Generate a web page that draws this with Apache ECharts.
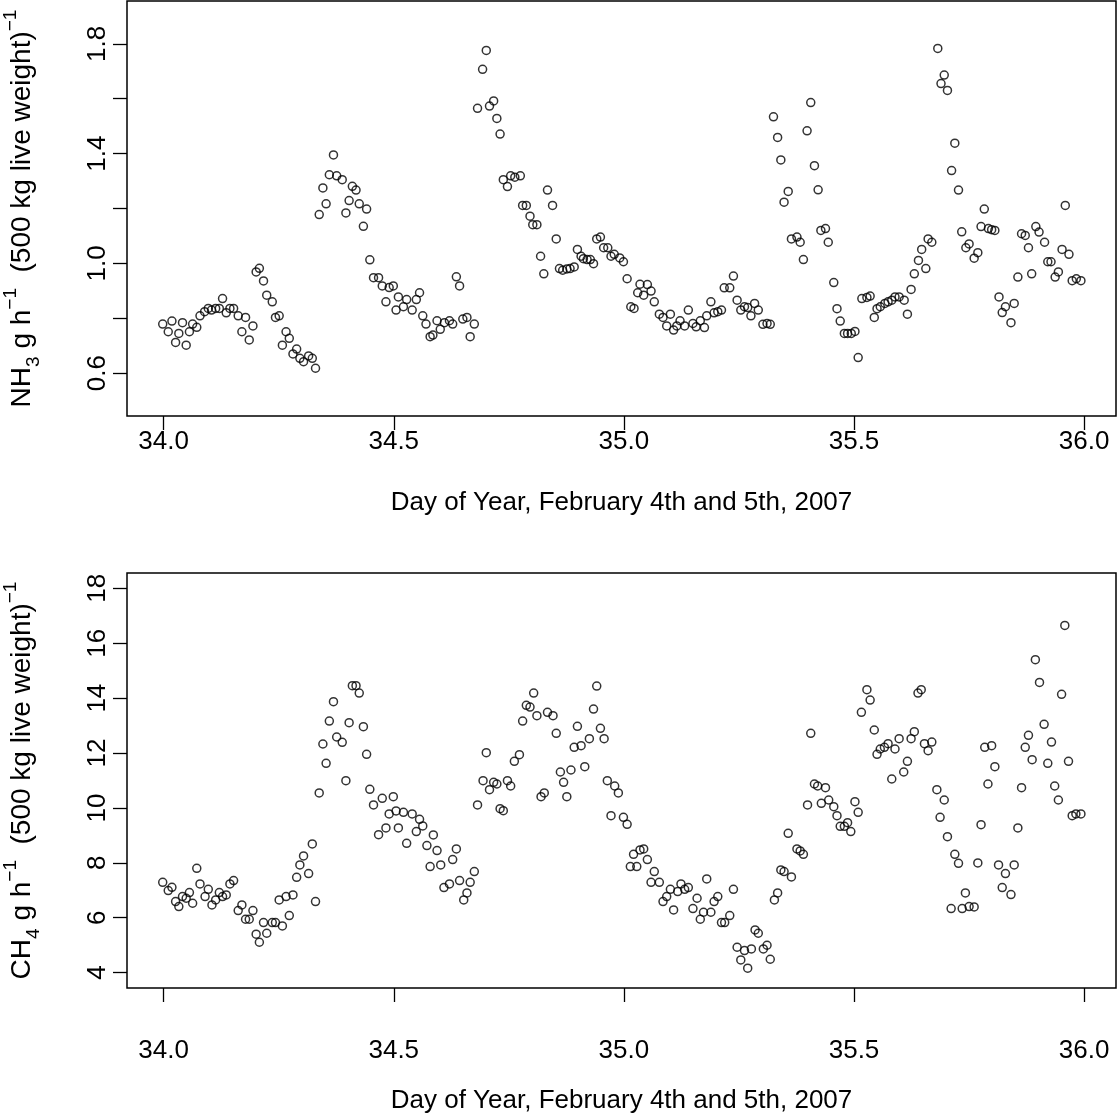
<!DOCTYPE html>
<html>
<head>
<meta charset="utf-8">
<script src="https://cdn.jsdelivr.net/npm/echarts@6/dist/echarts.min.js"></script>
<style>
  html, body { margin: 0; padding: 0; background: #fff; }
  #chart { width: 1118px; height: 1120px; }
</style>
</head>
<body>
<div id="chart"></div>
<script>
// NH3 emission rate, day of year
var nh3Day = [33.998, 34.010, 34.018, 34.026, 34.033, 34.041, 34.049, 34.056, 34.063, 34.072,
  34.079, 34.089, 34.097, 34.104, 34.113, 34.121, 34.128, 34.136, 34.144, 34.152,
  34.162, 34.170, 34.178, 34.186, 34.194, 34.201, 34.208, 34.217, 34.224, 34.236,
  34.243, 34.251, 34.258, 34.266, 34.273, 34.281, 34.289, 34.296, 34.304, 34.315,
  34.323, 34.330, 34.338, 34.346, 34.353, 34.360, 34.369, 34.376, 34.388, 34.396,
  34.403, 34.410, 34.418, 34.425, 34.434, 34.441, 34.448, 34.456, 34.467, 34.475,
  34.483, 34.490, 34.499, 34.505, 34.510,
  34.521, 34.528, 34.540, 34.549, 34.556, 34.563, 34.570, 34.579, 34.585, 34.594,
  34.601, 34.610, 34.621, 34.628, 34.636, 34.643, 34.650, 34.659, 34.666, 34.675,
  34.682, 34.693, 34.701, 34.708, 34.717, 34.724, 34.731, 34.738, 34.747, 34.754,
  34.763, 34.775, 34.780, 34.788, 34.796, 34.802, 34.811, 34.819, 34.826, 34.834,
  34.845, 34.853, 34.860, 34.867, 34.876, 34.883, 34.892, 34.899, 34.907, 34.912,
  34.920, 34.927, 34.934, 34.941, 34.949, 34.956, 34.965, 34.972, 34.979, 34.991,
  34.999, 35.007, 35.015, 35.022, 35.030, 35.035,
  35.043, 35.051, 35.059, 35.066, 35.077, 35.085, 35.093, 35.101, 35.108, 35.115,
  35.122, 35.132, 35.140, 35.150, 35.157, 35.166, 35.175, 35.180, 35.189, 35.196,
  35.204, 35.212, 35.218, 35.230, 35.238, 35.246, 35.254, 35.262, 35.269, 35.276,
  35.284, 35.292, 35.302, 35.311, 35.318, 35.325, 35.334, 35.341, 35.348, 35.357,
  35.364, 35.376, 35.383, 35.390, 35.398, 35.406, 35.414, 35.422, 35.428, 35.438,
  35.444, 35.456, 35.463, 35.470, 35.479, 35.486, 35.494, 35.502, 35.509, 35.517,
  35.528, 35.535, 35.544, 35.550, 35.557,
  35.567, 35.574, 35.582, 35.589, 35.598, 35.609, 35.616, 35.624, 35.631, 35.640,
  35.647, 35.656, 35.661, 35.669, 35.682, 35.689, 35.696, 35.703, 35.712, 35.719,
  35.727, 35.734, 35.743, 35.750, 35.761, 35.769, 35.776, 35.783, 35.792, 35.799,
  35.806, 35.815, 35.822, 35.829, 35.841, 35.848, 35.856, 35.864, 35.872, 35.879,
  35.886, 35.895, 35.902, 35.914, 35.921, 35.928, 35.937, 35.944, 35.952, 35.959,
  35.967, 35.974, 35.983, 35.993];
var nh3 = [0.779, 0.751, 0.790, 0.712, 0.745, 0.784, 0.702, 0.751, 0.779, 0.767,
  0.809, 0.824, 0.836, 0.830, 0.836, 0.836, 0.872, 0.820, 0.836, 0.836,
  0.809, 0.751, 0.803, 0.721, 0.772, 0.969, 0.982, 0.936, 0.884, 0.860,
  0.803, 0.809, 0.702, 0.751, 0.727, 0.670, 0.688, 0.654, 0.642, 0.663,
  0.654, 0.618, 1.178, 1.275, 1.217, 1.323, 1.395, 1.319, 1.305, 1.184,
  1.229, 1.281, 1.267, 1.217, 1.135, 1.198, 1.013, 0.948, 0.948, 0.918,
  0.860, 0.912, 0.918, 0.830, 0.878,
  0.842, 0.868, 0.830, 0.868, 0.893, 0.809, 0.779, 0.733, 0.739, 0.791,
  0.760, 0.784, 0.791, 0.779, 0.951, 0.918, 0.797, 0.803, 0.733, 0.779,
  1.565, 1.707, 1.776, 1.573, 1.592, 1.528, 1.471, 1.305, 1.280, 1.319,
  1.314, 1.319, 1.211, 1.211, 1.172, 1.141, 1.141, 1.026, 0.962, 1.267,
  1.211, 1.089, 0.981, 0.975, 0.980, 0.981, 0.987, 1.051, 1.026, 1.017,
  1.014, 1.014, 0.999, 1.089, 1.096, 1.057, 1.057, 1.026, 1.033, 1.020,
  1.006, 0.944, 0.842, 0.836, 0.893, 0.924,
  0.884, 0.923, 0.899, 0.860, 0.815, 0.803, 0.772, 0.815, 0.757, 0.772,
  0.791, 0.772, 0.830, 0.781, 0.769, 0.791, 0.766, 0.809, 0.860, 0.820,
  0.824, 0.830, 0.911, 0.911, 0.954, 0.866, 0.830, 0.842, 0.839, 0.809,
  0.854, 0.830, 0.778, 0.781, 0.778, 1.534, 1.459, 1.377, 1.223, 1.262,
  1.089, 1.096, 1.077, 1.014, 1.483, 1.586, 1.356, 1.268, 1.120, 1.127,
  1.077, 0.930, 0.835, 0.790, 0.745, 0.745, 0.745, 0.752, 0.657, 0.872,
  0.876, 0.881, 0.803, 0.835, 0.842,
  0.854, 0.860, 0.866, 0.878, 0.878, 0.866, 0.815, 0.905, 0.962, 1.011,
  1.051, 0.981, 1.089, 1.077, 1.783, 1.655, 1.686, 1.630, 1.338, 1.438,
  1.267, 1.115, 1.057, 1.071, 1.019, 1.039, 1.134, 1.198, 1.127, 1.123,
  1.120, 0.878, 0.821, 0.842, 0.784, 0.854, 0.950, 1.108, 1.102, 1.057,
  0.962, 1.134, 1.114, 1.077, 1.006, 1.006, 0.950, 0.969, 1.051, 1.211,
  1.033, 0.937, 0.944, 0.937];

// CH4 emission rate, day of year
var ch4Day = [33.998, 34.010, 34.018, 34.026, 34.033, 34.041, 34.049, 34.056, 34.063, 34.072,
  34.079, 34.090, 34.097, 34.105, 34.113, 34.121, 34.128, 34.136, 34.144, 34.152,
  34.162, 34.170, 34.178, 34.186, 34.194, 34.201, 34.208, 34.217, 34.224, 34.236,
  34.243, 34.251, 34.258, 34.266, 34.273, 34.281, 34.289, 34.296, 34.304, 34.315,
  34.323, 34.330, 34.338, 34.346, 34.353, 34.360, 34.369, 34.376, 34.388, 34.396,
  34.403, 34.410, 34.418, 34.425, 34.434, 34.441, 34.448, 34.456, 34.467, 34.475,
  34.483, 34.490, 34.499, 34.505, 34.510,
  34.521, 34.528, 34.540, 34.549, 34.556, 34.563, 34.572, 34.579, 34.586, 34.594,
  34.602, 34.609, 34.621, 34.628, 34.636, 34.643, 34.652, 34.659, 34.666, 34.675,
  34.682, 34.694, 34.701, 34.708, 34.717, 34.724, 34.731, 34.738, 34.747, 34.754,
  34.762, 34.773, 34.780, 34.788, 34.796, 34.804, 34.811, 34.820, 34.827, 34.834,
  34.846, 34.853, 34.862, 34.869, 34.876, 34.885, 34.892, 34.899, 34.907, 34.915,
  34.925, 34.934, 34.941, 34.949, 34.957, 34.964, 34.972, 34.980, 34.988, 34.999,
  35.007, 35.014, 35.021, 35.028, 35.035,
  35.043, 35.051, 35.059, 35.066, 35.077, 35.085, 35.093, 35.101, 35.108, 35.117,
  35.124, 35.132, 35.140, 35.150, 35.159, 35.166, 35.173, 35.180, 35.189, 35.196,
  35.204, 35.212, 35.219, 35.230, 35.238, 35.246, 35.254, 35.262, 35.269, 35.277,
  35.285, 35.292, 35.303, 35.311, 35.318, 35.327, 35.334, 35.341, 35.348, 35.357,
  35.364, 35.376, 35.383, 35.390, 35.399, 35.406, 35.414, 35.421, 35.429, 35.438,
  35.445, 35.456, 35.463, 35.470, 35.479, 35.486, 35.493, 35.502, 35.509, 35.516,
  35.528, 35.535, 35.544, 35.550, 35.557,
  35.566, 35.574, 35.582, 35.589, 35.598, 35.608, 35.616, 35.624, 35.631, 35.639,
  35.646, 35.653, 35.661, 35.669, 35.680, 35.687, 35.696, 35.703, 35.711, 35.719,
  35.727, 35.735, 35.742, 35.750, 35.761, 35.769, 35.776, 35.784, 35.791, 35.799,
  35.806, 35.814, 35.822, 35.829, 35.841, 35.848, 35.856, 35.864, 35.872, 35.879,
  35.887, 35.894, 35.903, 35.913, 35.921, 35.929, 35.936, 35.944, 35.951, 35.958,
  35.966, 35.974, 35.982, 35.993];
var ch4 = [7.292, 6.989, 7.110, 6.588, 6.406, 6.770, 6.710, 6.916, 6.528, 7.802,
  7.232, 6.770, 7.037, 6.467, 6.649, 6.916, 6.770, 6.831, 7.232, 7.353,
  6.261, 6.467, 5.945, 5.945, 6.261, 5.399, 5.107, 5.823, 5.435, 5.823,
  5.823, 6.649, 5.702, 6.770, 6.078, 6.831, 7.474, 7.924, 8.251, 7.608,
  8.688, 6.588, 10.546, 12.330, 11.626, 13.167, 13.872, 12.585, 12.391, 10.995,
  13.107, 14.454, 14.454, 14.187, 12.961, 11.954, 10.679, 10.108, 9.028, 10.351,
  9.271, 9.781, 10.412, 9.890, 9.271,
  9.841, 8.713, 9.781, 9.138, 9.587, 9.344, 8.628, 7.863, 9.016, 8.446,
  7.924, 7.098, 7.232, 8.118, 8.506, 7.353, 6.649, 6.904, 7.292, 7.681,
  10.108, 10.995, 12.014, 10.667, 10.934, 10.873, 9.975, 9.902, 10.995, 10.800,
  11.699, 11.941, 13.167, 13.738, 13.677, 14.187, 13.362, 10.412, 10.546, 13.483,
  13.362, 12.718, 11.310, 10.934, 10.412, 11.383, 12.209, 12.973, 12.269, 11.504,
  12.524, 13.604, 14.442, 12.900, 12.524, 10.995, 9.720, 10.800, 10.546, 9.659,
  9.404, 7.863, 8.312, 7.863, 8.469,
  8.506, 8.118, 7.292, 7.681, 7.292, 6.588, 6.770, 7.037, 6.285, 6.952,
  7.232, 7.037, 7.098, 6.334, 6.710, 5.945, 6.200, 7.414, 6.200, 6.588,
  6.770, 5.823, 5.823, 6.078, 7.037, 4.925, 4.464, 4.804, 4.161, 4.865,
  5.556, 5.435, 4.865, 4.998, 4.488, 6.649, 6.904, 7.741, 7.681, 9.077,
  7.486, 8.506, 8.433, 8.312, 10.108, 12.718, 10.873, 10.800, 10.169, 10.740,
  10.290, 10.047, 9.720, 9.332, 9.332, 9.465, 9.138, 10.230, 9.841, 13.483,
  14.308, 13.932, 12.840, 11.954, 12.148,
  12.209, 12.342, 11.055, 12.148, 12.524, 11.310, 11.699, 12.524, 12.779, 14.187,
  14.308, 12.342, 12.087, 12.402, 10.667, 9.659, 10.290, 8.955, 6.334, 8.312,
  7.984, 6.334, 6.904, 6.406, 6.394, 7.996, 9.392, 12.209, 10.873, 12.269,
  11.504, 7.924, 7.098, 7.608, 6.843, 7.924, 9.271, 10.740, 12.209, 12.646,
  11.759, 15.401, 14.575, 13.046, 11.626, 12.402, 10.800, 10.290, 14.138, 16.65,
  11.699, 9.720, 9.781, 9.781];

var xTicks = [34, 34.5, 35, 35.5, 36];
var nh3Ticks = [0.6, 0.8, 1.0, 1.2, 1.4, 1.6, 1.8];
var nh3Labels = [0.6, 1.0, 1.4, 1.8];
var ch4Ticks = [4, 6, 8, 10, 12, 14, 16, 18];

var FONT = 'Liberation Sans, Arial, Helvetica, sans-serif';
var xTitle = 'Day of Year, February 4th and 5th, 2007';

function zip(a, b) {
    var out = [];
    for (var i = 0; i < a.length; i++) out.push([a[i], b[i]]);
    return out;
}

function xAxisFor(idx, labelMargin, titleGap) {
    return {
        gridIndex: idx,
        type: 'value',
        min: 33.9204,
        max: 36.0692,
        axisLine: { show: false },
        splitLine: { show: false },
        axisTick: { customValues: xTicks, length: 14, lineStyle: { color: '#000', width: 1.3 } },
        axisLabel: {
            customValues: xTicks, margin: labelMargin, fontSize: 26, color: '#000', fontFamily: FONT,
            formatter: function (v) { return v.toFixed(1); }
        },
        name: xTitle,
        nameLocation: 'middle',
        nameGap: titleGap,
        nameTextStyle: { fontSize: 26, color: '#000', fontFamily: FONT }
    };
}

var richName = {
    n: { fontSize: 28, fontFamily: FONT, color: '#000', lineHeight: 42, verticalAlign: 'middle' },
    sub: { fontSize: 19, fontFamily: FONT, color: '#000', lineHeight: 42, verticalAlign: 'bottom' },
    sup: { fontSize: 19, fontFamily: FONT, color: '#000', lineHeight: 42, verticalAlign: 'top' }
};

function yAxisFor(idx, lo, hi, ticks, labels, gas, sub, fmt) {
    return {
        gridIndex: idx,
        type: 'value',
        min: lo,
        max: hi,
        axisLine: { show: false },
        splitLine: { show: false },
        axisTick: { customValues: ticks, length: 14, lineStyle: { color: '#000', width: 1.3 } },
        axisLabel: {
            customValues: labels, rotate: 90, margin: 16, fontSize: 26, color: '#000', fontFamily: FONT,
            formatter: fmt
        },
        name: '{n|' + gas + '}{sub|' + sub + '}{n| g h}{sup|\u22121}{n|  (500 kg live weight)}{sup|\u22121}',
        nameLocation: 'middle',
        nameRotate: 90,
        nameGap: 84,
        nameTextStyle: { rich: richName }
    };
}

var circle = {
    type: 'scatter',
    symbol: 'circle',
    symbolSize: 8,
    itemStyle: { color: 'rgba(0,0,0,0)', borderColor: '#000', borderWidth: 1.5 },
    emphasis: { disabled: true }
};

var gridBase = {
    left: 127, right: 2, height: 415, show: true, containLabel: false, outerBoundsMode: 'none',
    borderColor: '#000', borderWidth: 1.5, backgroundColor: 'transparent'
};

var chart = echarts.init(document.getElementById('chart'), null, { renderer: 'canvas' });
chart.setOption({
    animation: false,
    backgroundColor: '#fff',
    grid: [
        Object.assign({}, gridBase, { top: 1 }),
        Object.assign({}, gridBase, { top: 573 })
    ],
    xAxis: [xAxisFor(0, 13, 74), xAxisFor(1, 50, 100)],
    yAxis: [
        yAxisFor(0, 0.444, 1.956, nh3Ticks, nh3Labels, 'NH', '3', function (v) { return v.toFixed(1); }),
        yAxisFor(1, 3.44, 18.56, ch4Ticks, ch4Ticks, 'CH', '4', function (v) { return String(v); })
    ],
    series: [
        Object.assign({}, circle, { xAxisIndex: 0, yAxisIndex: 0, data: zip(nh3Day, nh3) }),
        Object.assign({}, circle, { xAxisIndex: 1, yAxisIndex: 1, data: zip(ch4Day, ch4) })
    ]
});
</script>
</body>
</html>
